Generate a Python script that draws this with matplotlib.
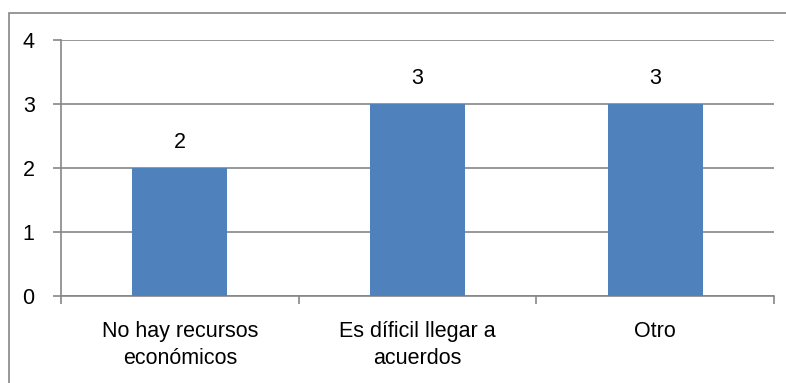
import matplotlib.pyplot as plt
from matplotlib.patches import Rectangle

categorias = ['No hay recursos\neconómicos', 'Es díficil llegar a\nacuerdos', 'Otro']
valores = [2, 3, 3]
ticks_y = [0, 1, 2, 3, 4]

plt.rcParams['font.family'] = ['Liberation Sans', 'DejaVu Sans']

fig = plt.figure(figsize=(7.86, 3.83), dpi=100)
ax = fig.add_axes([61 / 786, 1 - 296 / 383, (774 - 61) / 786, (296 - 40) / 383])

# marco exterior del gráfico
fig.patches.append(Rectangle((9 / 786, -0.05), 1.0, 1 - 13 / 383 + 0.05,
                             transform=fig.transFigure, fill=False,
                             edgecolor='#868686', linewidth=1.2))

x = list(range(len(categorias)))
ax.bar(x, valores, width=0.4, color='#4F81BD', zorder=3)
for xi, v in zip(x, valores):
    ax.annotate(str(v), (xi, v), xytext=(0, 18), textcoords='offset points',
                ha='center', va='center', fontsize=15.5, color='black')

ax.set_xlim(-0.5, len(categorias) - 0.5)
ax.set_ylim(0, 4)
ax.set_yticks(ticks_y)
ax.yaxis.grid(True, color='#868686', linewidth=1.2)
ax.set_axisbelow(True)

ax.set_xticks([i + 0.5 for i in range(-1, len(categorias))], minor=False)
ax.set_xticklabels([])
ax.set_xticks(x, minor=True)
ax.set_xticklabels(categorias, minor=True, fontsize=15.5, linespacing=1.4)
ax.tick_params(axis='x', which='major', length=6, color='#868686', width=1.2)
ax.tick_params(axis='x', which='minor', length=0, pad=18)
ax.tick_params(axis='y', length=6, color='#868686', width=1.2, labelsize=15.5, pad=13)

for s in ['top', 'right']:
    ax.spines[s].set_visible(False)
for s in ['left', 'bottom']:
    ax.spines[s].set_color('#868686')
    ax.spines[s].set_linewidth(1.2)

fig.savefig('out.png', dpi=100)
